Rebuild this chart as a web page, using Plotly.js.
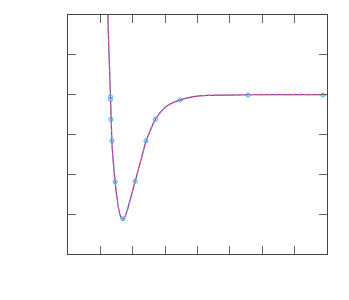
<!DOCTYPE html>
<html><head><meta charset="utf-8">
<script src="https://cdn.plot.ly/plotly-3.0.1.min.js"></script>
<style>html,body{margin:0;padding:0;background:#fff}#chart{width:349px;height:300px}</style>
</head><body><div id="chart"></div>
<script>
// Fitted curve
const curveX = [1.23, 1.26, 1.29, 1.31, 1.33, 1.36, 1.40, 1.45, 1.50, 1.55, 1.60, 1.65, 1.70, 1.75, 1.80, 1.90, 2.00, 2.10, 2.25, 2.40, 2.55, 2.70, 2.90, 3.10, 3.40, 3.80, 4.30, 5.00, 6.00, 7.00, 8.00];
const curveY = [6.0, 5.2, 4.5, 4.0, 3.5, 2.75, 2.3, 1.86, 1.5, 1.2, 1.0, 0.9, 0.88, 0.92, 1.02, 1.3, 1.6, 1.9, 2.35, 2.8, 3.12, 3.38, 3.6, 3.74, 3.85, 3.94, 3.98, 3.99, 4.0, 4.0, 4.0];
// Sample points
const ptsX = [1.312, 1.312, 1.324, 1.355, 1.457, 1.696, 2.078, 2.409, 2.698, 3.473, 5.56, 7.87];
const ptsY = [3.95, 3.88, 3.38, 2.84, 1.81, 0.886, 1.825, 2.84, 3.38, 3.87, 3.99, 3.99];

const traces = [
  {x: curveX, y: curveY, mode: 'lines', line: {color: '#5a4fc0', width: 1.2, shape: 'spline'}, hoverinfo: 'none'},
  {x: curveX, y: curveY, mode: 'lines', line: {color: '#ff5a78', width: 1.2, shape: 'spline', dash: '3px,3px'}, hoverinfo: 'none'},
  {x: ptsX, y: ptsY, mode: 'markers', marker: {symbol: 'circle-open', size: 4, color: '#3ab0ea', line: {width: 1, color: '#3ab0ea'}}, hoverinfo: 'none'}
];
const axisCommon = {showgrid: false, zeroline: false, showticklabels: false, ticks: 'inside', ticklen: 8, tickcolor: '#666', tickwidth: 1, showline: true, linecolor: '#444', linewidth: 1, mirror: 'allticks', dtick: 1, tick0: 0, fixedrange: true};
const layout = {
  width: 349, height: 300,
  margin: {l: 68, r: 22, t: 15, b: 46, pad: 0},
  paper_bgcolor: '#fff', plot_bgcolor: '#fff',
  showlegend: false,
  xaxis: Object.assign({}, axisCommon, {range: [0, 8]}),
  yaxis: Object.assign({}, axisCommon, {range: [0, 6]})
};
Plotly.newPlot('chart', traces, layout, {staticPlot: true, displayModeBar: false});
</script></body></html>
